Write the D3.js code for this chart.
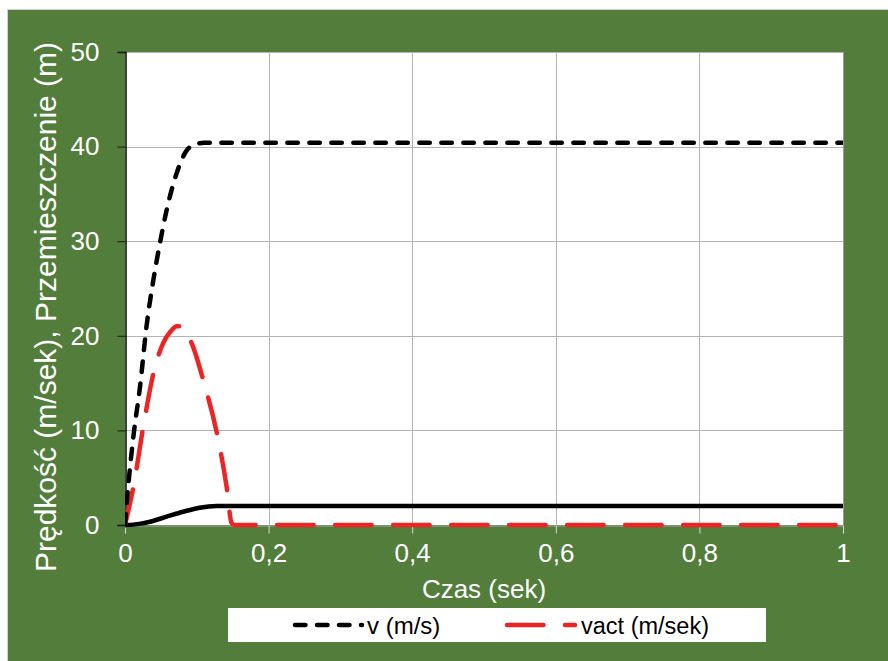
<!DOCTYPE html>
<html>
<head>
<meta charset="utf-8">
<script src="https://cdn.jsdelivr.net/npm/d3@7"></script>
<style>
  html, body { margin: 0; padding: 0; background: #ffffff; }
  svg { display: block; }
  text { font-family: "Liberation Sans", Arial, sans-serif; }
</style>
</head>
<body>
<svg id="chart" width="888" height="661"></svg>
<script>
// Time axis (s)
const timeV = [0, 0.0024, 0.0116, 0.0209, 0.030, 0.0395, 0.0487, 0.058, 0.072, 0.086, 0.1, 0.11, 1];
// v (m/s)
const vValues = [0, 2.3, 9.3, 14.6, 21.0, 25.9, 29.8, 33.3, 37.2, 39.6, 40.3, 40.4, 40.4];

const timeVact = [0, 0.0116, 0.0255, 0.0395, 0.053, 0.064, 0.072, 0.079, 0.086, 0.095, 0.109, 0.128, 0.1416, 0.1485, 0.152, 1];
// vact (m/sek)
const vactValues = [0, 4.0, 10.4, 16.0, 19.2, 20.5, 21.0, 21.0, 20.3, 18.8, 15.3, 9.7, 4.0, 0.2, 0, 0];

const timeS = [0, 0.02, 0.035, 0.058, 0.081, 0.104, 0.128, 0.14, 1];
// displacement (m)
const sValues = [0, 0.12, 0.35, 0.88, 1.4, 1.83, 2.0, 2.0, 2.0];

const xTicks = [0, 0.2, 0.4, 0.6, 0.8, 1];
const xTickLabels = ["0", "0,2", "0,4", "0,6", "0,8", "1"];
const yTicks = [0, 10, 20, 30, 40, 50];

const legendLabels = ["v (m/s)", "vact (m/sek)"];
const xTitle = "Czas (sek)";
const yTitle = "Prędkość (m/sek), Przemieszczenie (m)";

const svg = d3.select("#chart");
const green = "#527d3b";

// chart background
svg.append("rect").attr("x", 8).attr("y", 10).attr("width", 880).attr("height", 651)
  .attr("fill", green);
svg.append("line").attr("x1", 8).attr("x2", 888).attr("y1", 9.5).attr("y2", 9.5)
  .attr("stroke", "#d0d0d0").attr("stroke-width", 1);
svg.append("line").attr("x1", 7.5).attr("x2", 7.5).attr("y1", 9).attr("y2", 661)
  .attr("stroke", "#d0d0d0").attr("stroke-width", 1);

const plot = { left: 125, top: 52, right: 843, bottom: 525 };

const x = d3.scaleLinear().domain([0, 1]).range([plot.left, plot.right]);
const y = d3.scaleLinear().domain([0, 50]).range([plot.bottom, plot.top]);

// plot area
svg.append("rect")
  .attr("x", plot.left).attr("y", plot.top)
  .attr("width", plot.right - plot.left).attr("height", plot.bottom - plot.top)
  .attr("fill", "#ffffff");

// grid
const grid = svg.append("g").attr("stroke", "#b3b3b3").attr("stroke-width", 1);
grid.selectAll("line.h").data(yTicks.slice(1)).join("line")
  .attr("x1", plot.left).attr("x2", plot.right)
  .attr("y1", d => Math.round(y(d)) + 0.5).attr("y2", d => Math.round(y(d)) + 0.5);
grid.selectAll("line.v").data(xTicks.slice(1)).join("line")
  .attr("y1", plot.top).attr("y2", plot.bottom)
  .attr("x1", d => Math.round(x(d)) + 0.5).attr("x2", d => Math.round(x(d)) + 0.5);
grid.append("line").attr("x1", plot.right + 0.5).attr("x2", plot.right + 0.5)
  .attr("y1", plot.top).attr("y2", plot.bottom).attr("stroke", "#999");

// x axis
const xAxis = d3.axisBottom(x).tickValues(xTicks)
  .tickFormat((d, i) => xTickLabels[i]).tickSize(8).tickPadding(10);
const gx = svg.append("g").attr("transform", `translate(0,${plot.bottom + 0.5})`).call(xAxis);
gx.select(".domain").attr("stroke", "#a6a6a6");
gx.selectAll(".tick line").attr("stroke", "#d9d9d9");
gx.selectAll("text").attr("fill", "#ffffff").attr("font-size", 26)
  .attr("font-family", "Liberation Sans, Arial, sans-serif");

// y axis
const yAxis = d3.axisLeft(y).tickValues(yTicks).tickSize(8).tickPadding(18);
const gy = svg.append("g").attr("transform", `translate(${plot.left + 0.5},0)`).call(yAxis);
gy.select(".domain").attr("stroke", "#000000").attr("stroke-width", 1.5);
gy.selectAll(".tick line").attr("stroke", "#1a1a1a");
gy.selectAll("text").attr("fill", "#ffffff").attr("font-size", 26)
  .attr("font-family", "Liberation Sans, Arial, sans-serif");

// axis titles
svg.append("text").attr("x", 484).attr("y", 598).attr("text-anchor", "middle")
  .attr("fill", "#ffffff").attr("font-size", 26).text(xTitle);
svg.append("text").attr("transform", "translate(56,307) rotate(-90)")
  .attr("text-anchor", "middle").attr("fill", "#ffffff").attr("font-size", 30).text(yTitle);

// series
const line = d3.line().x(d => x(d[0])).y(d => y(d[1])).curve(d3.curveMonotoneX);
svg.append("clipPath").attr("id", "plotclip").append("rect")
  .attr("x", plot.left).attr("y", plot.top - 5)
  .attr("width", plot.right - plot.left).attr("height", plot.bottom - plot.top + 10);

const series = svg.append("g").attr("clip-path", "url(#plotclip)").attr("fill", "none");

series.append("path")
  .attr("d", line(timeS.map((t, i) => [t, sValues[i]])))
  .attr("stroke", "#000000").attr("stroke-width", 4.5);

series.append("path")
  .attr("d", line(timeVact.map((t, i) => [t, vactValues[i]])))
  .attr("stroke", "#ee2424").attr("stroke-width", 4.5)
  .attr("stroke-linecap", "round").attr("stroke-dasharray", "36.5,21.5");

series.append("path")
  .attr("d", line(timeV.map((t, i) => [t, vValues[i]])))
  .attr("stroke", "#000000").attr("stroke-width", 4.5)
  .attr("stroke-linecap", "round").attr("stroke-dasharray", "10.5,11.5");

// legend
const lg = svg.append("g");
lg.append("rect").attr("x", 228).attr("y", 608).attr("width", 538).attr("height", 34)
  .attr("fill", "#ffffff");
lg.append("line").attr("x1", 295).attr("x2", 362).attr("y1", 625).attr("y2", 625)
  .attr("stroke", "#000").attr("stroke-width", 4.5).attr("stroke-linecap", "round")
  .attr("stroke-dasharray", "10.5,11.5");
lg.append("text").attr("x", 367).attr("y", 634).attr("fill", "#000").attr("font-size", 24)
  .text(legendLabels[0]);
lg.append("line").attr("x1", 507).attr("x2", 575).attr("y1", 625).attr("y2", 625)
  .attr("stroke", "#ee2424").attr("stroke-width", 4.5).attr("stroke-linecap", "round")
  .attr("stroke-dasharray", "36.5,21.5");
lg.append("text").attr("x", 581).attr("y", 634).attr("fill", "#000").attr("font-size", 23.5)
  .text(legendLabels[1]);
</script>
</body>
</html>
